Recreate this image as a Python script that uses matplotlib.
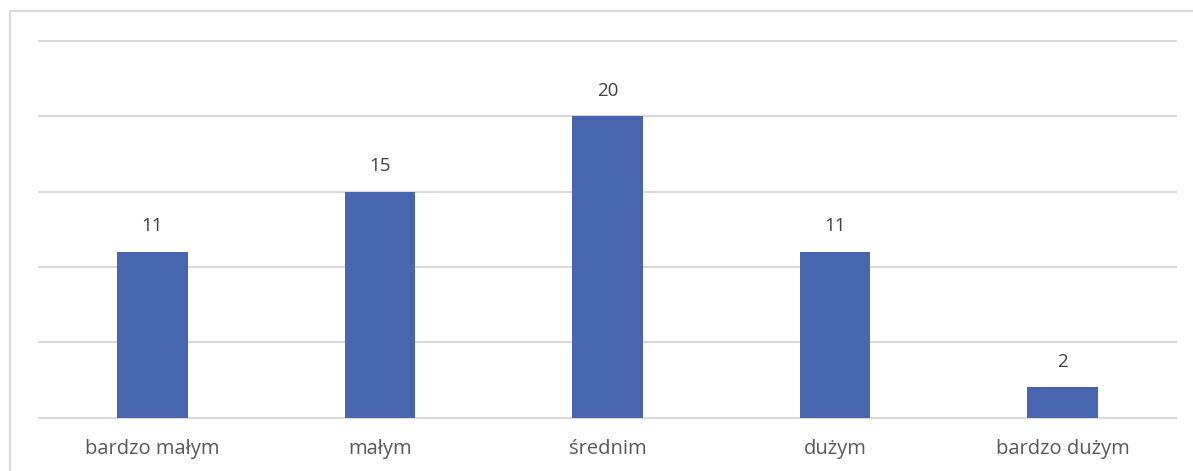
import matplotlib.pyplot as plt
from matplotlib.patches import Rectangle

# categories and counts
categories = ['bardzo małym', 'małym', 'średnim', 'dużym', 'bardzo dużym']
counts = [11, 15, 20, 11, 2]
y_ticks = [0, 5, 10, 15, 20, 25]

plt.rcParams['font.family'] = ['Open Sans', 'DejaVu Sans']

W, H = 1193, 471
fig = plt.figure(figsize=(W / 100, H / 100), dpi=100)

# outer chart border (cut off at right and bottom like the reference)
fig.patches.append(Rectangle((10 / W, -0.5), 3, 1 - 11 / H + 0.5,
                             transform=fig.transFigure, fill=False,
                             edgecolor='#D9D9D9', linewidth=1.5))

ax = fig.add_axes([38.75 / W, (H - 417.5) / H, (1176.25 - 38.75) / W, (417.5 - 41) / H])

x = list(range(len(categories)))
ax.bar(x, counts, width=0.31, color='#4866AD', zorder=3)

for xi, v in zip(x, counts):
    ax.annotate(str(v), (xi, v), xytext=(0, 12), textcoords='offset points',
                ha='center', va='bottom', fontsize=13.5, color='#404040')

ax.set_xlim(-0.5, len(categories) - 0.5)
ax.set_ylim(0, 25)
ax.set_yticks(y_ticks)
ax.yaxis.grid(True, color='#D9D9D9', linewidth=1.5, zorder=0, clip_on=False)
ax.tick_params(axis='y', left=False, labelleft=False)
ax.tick_params(axis='x', bottom=False, pad=12)
ax.set_xticks(x)
ax.set_xticklabels(categories, fontsize=14.5, color='#595959')
for s in ax.spines.values():
    s.set_visible(False)

fig.savefig('out.png', dpi=100)
